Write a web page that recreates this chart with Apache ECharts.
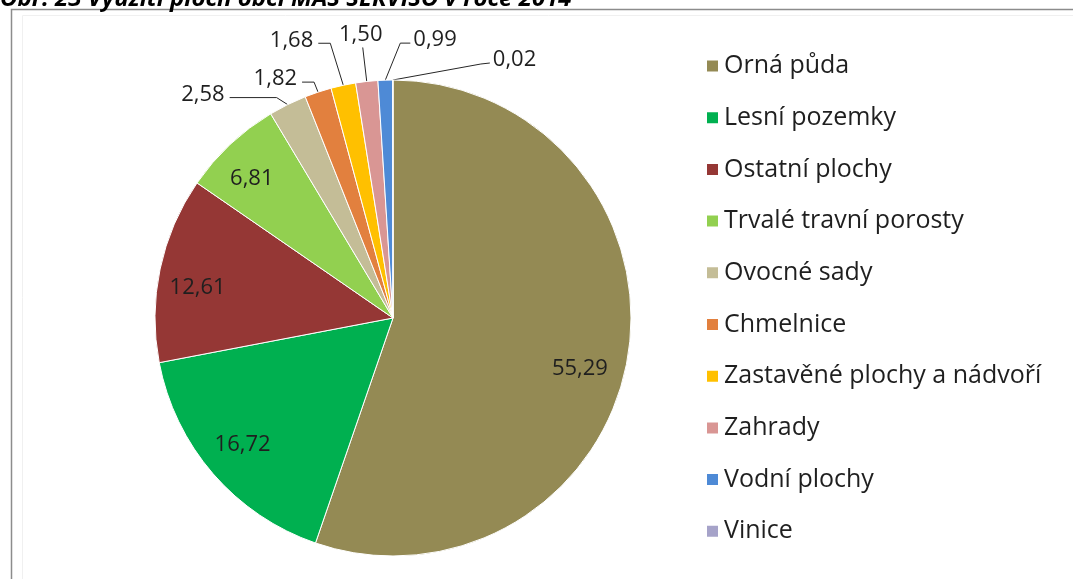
<!DOCTYPE html>
<html>
<head>
<meta charset="utf-8">
<script src="https://cdn.jsdelivr.net/npm/echarts@6/dist/echarts.min.js"></script>
<style>
    html, body { margin: 0; padding: 0; background: #fff; }
    #land-use-chart { width: 1073px; height: 579px; }
</style>
</head>
<body>
<div id="land-use-chart"></div>
<script>
    // data
    const categories = ['Orná půda', 'Lesní pozemky', 'Ostatní plochy', 'Trvalé travní porosty', 'Ovocné sady',
        'Chmelnice', 'Zastavěné plochy a nádvoří', 'Zahrady', 'Vodní plochy', 'Vinice'];
    const shares = [55.29, 16.72, 12.61, 6.81, 2.58, 1.82, 1.68, 1.50, 0.99, 0.02];

    const palette = ['#948a54', '#00b050', '#953735', '#92d050', '#c4bd97',
        '#e2803e', '#ffc000', '#d99694', '#4e8ad6', '#a6a3c9'];

    const CX = 393, CY = 318, R = 238;
    const FONT = 'Open Sans';
    const TEXT = '#1f1f1f';

    // leader line placement for the small slices: [elbow, end] offsets from the slice edge
    const outside = {
        4: {elbow: [-11, -7], end: [-58, -7], align: 'right'},
        5: {elbow: [-4, -10], end: [-16, -10], align: 'right'},
        6: {elbow: [-13, -42], end: [-25, -42], align: 'right'},
        7: {elbow: [-4, -34], end: [-4, -34], align: 'center'},
        8: {elbow: [15, -37], end: [25, -37], align: 'left'},
        9: {elbow: [88, -16], end: [97, -17], align: 'left'},
    };
    // small nudges for the labels inside the big slices
    const insideNudge = {0: [-8, 18], 1: [-1, -3], 2: [-2, 10], 3: [-6, 5]};

    let chart = echarts.init(document.getElementById('land-use-chart'))
    let options = {
        animation: false,
        color: palette,
        title: {
            text: 'Obr. 23 Využití ploch obcí MAS SERVISO v roce 2014',
            left: 0,
            top: -13,
            padding: 0,
            textStyle: {fontFamily: FONT, fontStyle: 'italic', fontWeight: 'bold', fontSize: 24, color: '#000'}
        },
        graphic: [
            {type: 'rect', shape: {x: 11.5, y: 9.5, width: 1200, height: 700},
                style: {fill: null, stroke: '#8c8c8c', lineWidth: 1.5}, silent: true},
            {type: 'rect', shape: {x: 22.5, y: 15.5, width: 1200, height: 700},
                style: {fill: null, stroke: '#f0f0f0', lineWidth: 1}, silent: true},
        ],
        legend: {
            orient: 'vertical',
            left: 700,
            top: 48,
            icon: 'rect',
            itemWidth: 13,
            itemHeight: 13,
            itemGap: 25.7,
            data: categories,
            textStyle: {fontFamily: FONT, fontSize: 25, color: TEXT, lineHeight: 26}
        },
        series: [
            {
                type: 'pie',
                center: [CX, CY],
                radius: R,
                startAngle: 90,
                clockwise: true,
                avoidLabelOverlap: false,
                itemStyle: {borderColor: '#fff', borderWidth: 1},
                label: {
                    fontFamily: FONT,
                    fontSize: 22,
                    color: TEXT,
                    formatter: (p) => p.value.toFixed(2).replace('.', ',')
                },
                labelLine: {length: 10, length2: 10, lineStyle: {color: '#262626', width: 1}},
                data: categories.map((name, i) => ({
                    name: name,
                    value: shares[i],
                    label: {position: outside[i] ? 'outside' : 'inside'},
                    labelLine: {show: !!outside[i]}
                })),
                labelLayout: (params) => {
                    let cfg = outside[params.dataIndex]
                    if (!cfg) {
                        // push inside labels outwards, like the spreadsheet does
                        let r = params.labelRect
                        let lx = r.x + r.width / 2, ly = r.y + r.height / 2
                        let k = 1.62
                        let n = insideNudge[params.dataIndex] || [0, 0]
                        return {x: CX + (lx - CX) * k + n[0], y: CY + (ly - CY) * k + n[1],
                            align: 'center', verticalAlign: 'middle'}
                    }
                    let a = params.labelLinePoints[0]
                    let e = [a[0] + cfg.elbow[0], a[1] + cfg.elbow[1]]
                    let t = [a[0] + cfg.end[0], a[1] + cfg.end[1]]
                    let res = {labelLinePoints: [a, e, t], align: cfg.align, verticalAlign: 'middle'}
                    if (cfg.align === 'right') { res.x = t[0] - 5; res.y = t[1] - 3 }
                    else if (cfg.align === 'left') { res.x = t[0] + 3; res.y = t[1] - 3 }
                    else { res.x = t[0] - 2; res.y = t[1] - 2; res.verticalAlign = 'bottom' }
                    return res
                }
            }
        ]
    }
    chart.setOption(options)
</script>
</body>
</html>
